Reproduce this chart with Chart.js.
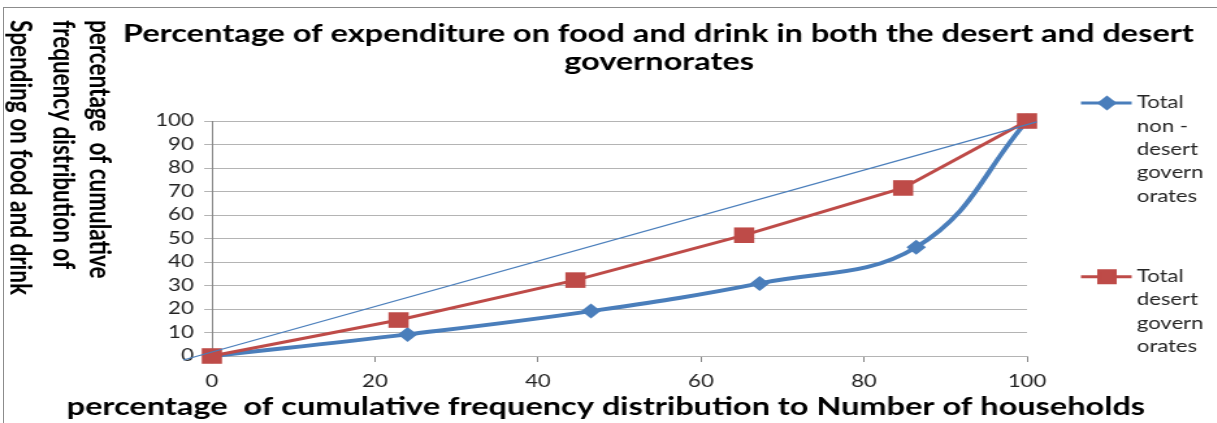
<!DOCTYPE html>
<html>
<head>
<meta charset="utf-8">
<script src="https://cdn.jsdelivr.net/npm/chart.js@4"></script>
<style>
  html, body { margin: 0; padding: 0; background: #fff; }
  #wrap { position: relative; width: 1217px; height: 423px; overflow: hidden; background: #fff; }
  #stretch { position: absolute; left: 0; top: 0; width: 936px; height: 423px; transform: scaleX(1.3); transform-origin: 0 0; }
  #frame { position: absolute; left: 3px; top: 7px; right: 0; bottom: 0; border-top: 1px solid #8c8c8c; border-left: 1px solid #8c8c8c; pointer-events: none; }
</style>
</head>
<body>
<div id="wrap">
  <div id="stretch"><canvas id="chart" width="936" height="423"></canvas></div>
  <div id="frame"></div>
</div>
<script>
// the original is an Excel chart that was stretched sideways, so the canvas is drawn narrow and scaled by 1.3
const chartTitle = ['Percentage of expenditure on food and drink in both the desert and desert', 'governorates'];
const xTitle = 'percentage  of cumulative frequency distribution to Number of households';
const yTitle = ['percentage  of cumulative', 'frequency distribution of', 'Spending on food and drink'];
const nonDesertLabel = ['Total', 'non -', 'desert', 'govern', 'orates'];
const desertLabel = ['Total', 'desert', 'govern', 'orates'];

const nonDesertX = [0, 24.0, 46.5, 67.2, 86.4, 100];
const nonDesertY = [0, 9.2, 19.1, 30.9, 46.3, 100];
const desertX = [0, 22.9, 44.6, 65.3, 84.8, 100];
const desertY = [0, 15.3, 32.3, 51.4, 71.5, 100];
const equalityX = [-3.5, 101.2];
const equalityY = [-1.7, 99.6];

const xTicks = [0, 20, 40, 60, 80, 100];
const yTicks = [0, 10, 20, 30, 40, 50, 60, 70, 80, 90, 100];

const BLUE = '#4a7ebb';
const RED = '#be4b48';

function pts(xs, ys) {
  return xs.map((x, i) => ({ x: x, y: ys[i] }));
}

const textPlugin = {
  id: 'texts',
  afterDraw(chart) {
    const ctx = chart.ctx;
    ctx.save();
    ctx.fillStyle = '#000';
    ctx.textBaseline = 'alphabetic';

    // title
    ctx.font = 'bold 25px Lato';
    ctx.textAlign = 'center';
    ctx.fillText(chartTitle[0], 506.5, 42);
    ctx.fillText(chartTitle[1], 507, 70);

    // x title
    ctx.fillText(xTitle, 466, 415);

    // y title, turned clockwise
    ctx.font = 'bold 22.5px Lato';
    ctx.textAlign = 'left';
    const cols = [69, 41, 8];
    yTitle.forEach((line, i) => {
      ctx.save();
      ctx.translate(cols[i], 20);
      ctx.rotate(Math.PI / 2);
      ctx.fillText(line, 0, 0);
      ctx.restore();
    });

    // legend
    ctx.font = '17px Lato';
    ctx.textBaseline = 'middle';
    const drawKey = (y0, color, style, radius, lines) => {
      ctx.strokeStyle = color;
      ctx.lineWidth = 3;
      ctx.beginPath();
      ctx.moveTo(831.5, y0);
      ctx.lineTo(870.5, y0);
      ctx.stroke();
      ctx.fillStyle = color;
      Chart.helpers.drawPoint(ctx, { pointStyle: style, radius: radius, borderWidth: 1 }, 851.5, y0);
      ctx.fillStyle = '#262626';
      lines.forEach((t, i) => ctx.fillText(t, 874.5, y0 + i * 23.3));
    };
    drawKey(103, BLUE, 'rectRot', 5.5, nonDesertLabel);
    drawKey(276.7, RED, 'rect', 8.5, desertLabel);
    ctx.restore();
  }
};

new Chart(document.getElementById('chart'), {
  type: 'scatter',
  data: {
    datasets: [
      {
        label: 'equality',
        data: pts(equalityX, equalityY),
        showLine: true,
        borderColor: BLUE,
        borderWidth: 1.3,
        pointRadius: 0,
        clip: false
      },
      {
        label: 'Total desert governorates',
        data: pts(desertX, desertY),
        showLine: true,
        borderColor: RED,
        backgroundColor: RED,
        borderWidth: 3,
        tension: 0,
        pointStyle: 'rect',
        pointRadius: 11,
        pointBorderWidth: 0,
        clip: false
      },
      {
        label: 'Total non - desert governorates',
        data: pts(nonDesertX, nonDesertY),
        showLine: true,
        borderColor: BLUE,
        backgroundColor: BLUE,
        borderWidth: 4,
        tension: 0.4,
        pointStyle: 'rectRot',
        pointRadius: 7.5,
        pointBorderWidth: 0,
        clip: false
      }
    ]
  },
  options: {
    responsive: false,
    animation: false,
    events: [],
    layout: { padding: { left: 0, top: 121, right: 146, bottom: 0 } },
    plugins: {
      legend: { display: false },
      title: { display: false },
      tooltip: { enabled: false }
    },
    scales: {
      x: {
        type: 'linear',
        min: 0,
        max: 100,
        afterBuildTicks: (s) => { s.ticks = xTicks.map(v => ({ value: v })); },
        afterFit: (s) => { s.height = 67; },
        grid: { drawOnChartArea: false, drawTicks: true, tickLength: 6, color: '#868686' },
        border: { display: true, color: '#b4b4b4' },
        ticks: { padding: 9, color: '#222', font: { family: 'Lato', size: 17 }, maxRotation: 0 }
      },
      y: {
        type: 'linear',
        min: 0,
        max: 100,
        afterBuildTicks: (s) => { s.ticks = yTicks.map(v => ({ value: v })); },
        afterFit: (s) => { s.width = 163; },
        grid: { color: '#b4b4b4', tickLength: 6 },
        border: { display: true, color: '#868686' },
        ticks: { padding: 8, color: '#222', font: { family: 'Lato', size: 17 } }
      }
    }
  },
  plugins: [textPlugin]
});
</script>
</body>
</html>
